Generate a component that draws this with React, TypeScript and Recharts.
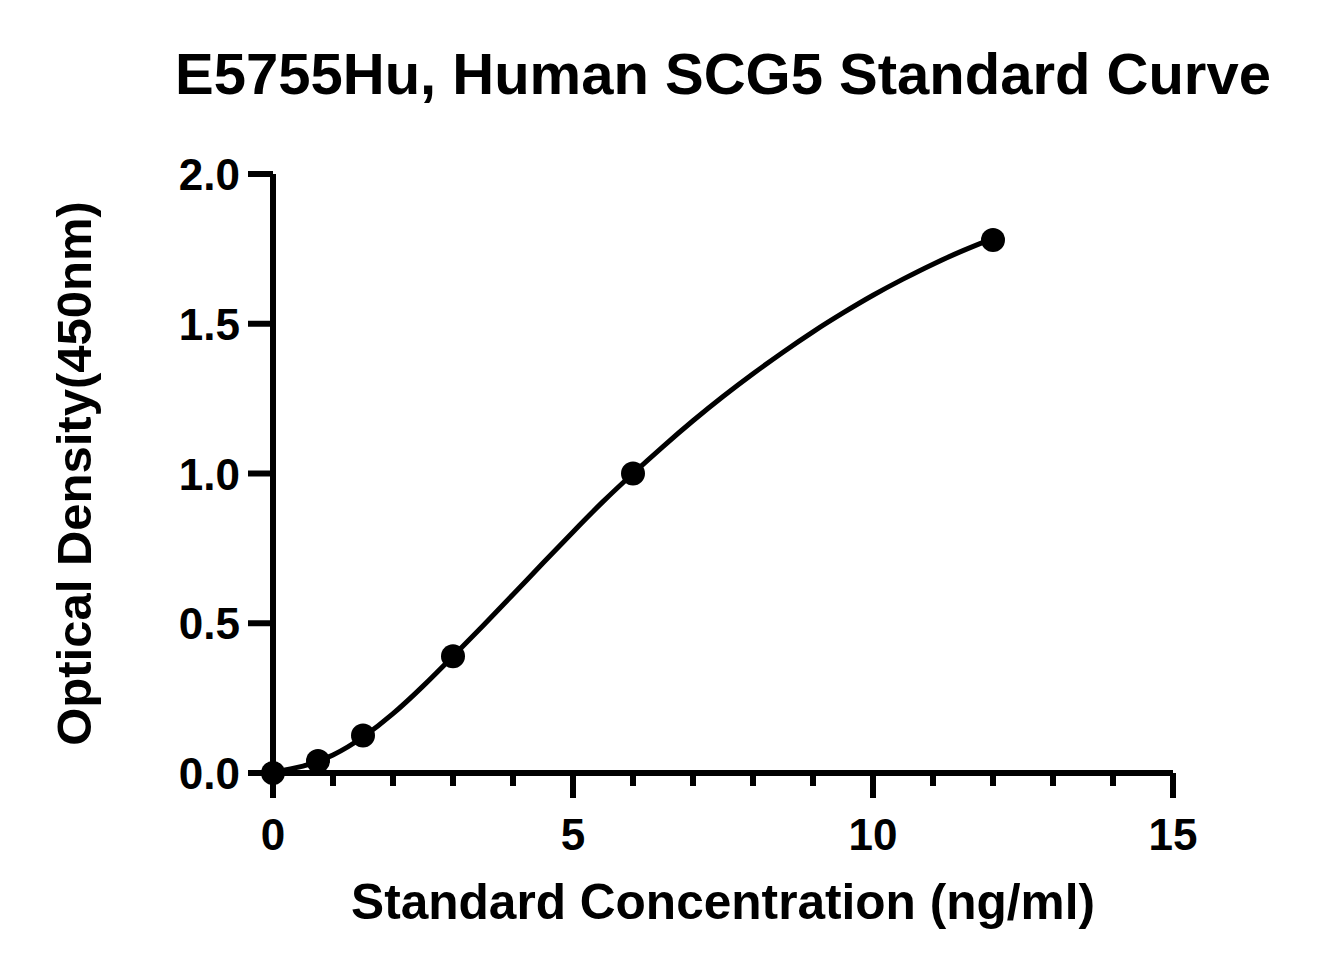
import React from "react";
import { ComposedChart, Line, Scatter, XAxis, YAxis, Label } from "recharts";

const FONT = "'Liberation Sans', Arial, Helvetica, sans-serif";

const title = "E5755Hu, Human SCG5 Standard Curve";
const xTitle = "Standard Concentration (ng/ml)";
const yTitle = "Optical Density(450nm)";

// measured standards
const concentrations = [0, 0.75, 1.5, 3, 6, 12];
const densities = [0.0, 0.04, 0.125, 0.39, 1.0, 1.78];

// fitted curve
const curveX = [0, 0.5, 1, 1.5, 2, 2.5, 3, 3.5, 4, 4.5, 5, 5.5, 6, 6.5, 7, 7.5, 8, 8.5, 9, 9.5, 10, 10.5, 11, 11.5, 12];
const curveY = [0.003, 0.023, 0.06, 0.12, 0.198, 0.29, 0.39, 0.492, 0.596, 0.701, 0.805, 0.906, 1.0, 1.09, 1.176, 1.257, 1.333, 1.405, 1.473, 1.536, 1.595, 1.649, 1.699, 1.744, 1.785];

const xTicks = [0, 1, 2, 3, 4, 5, 6, 7, 8, 9, 10, 11, 12, 13, 14, 15];
const xMajor = [0, 5, 10, 15];
const yTicks = [0, 0.5, 1.0, 1.5, 2.0];

const points = concentrations.map((x, i) => ({ x, y: densities[i] }));
const curve = curveX.map((x, i) => ({ x, y: curveY[i] }));

function XTick(props: any) {
  const { x, y, payload } = props;
  const major = xMajor.includes(payload.value);
  const len = major ? 25 : 13;
  return (
    <g>
      <line x1={x} x2={x} y1={y} y2={y + len} stroke="#000" strokeWidth={6} />
      {major && (
        <text x={x} y={y + 77} textAnchor="middle" fontFamily={FONT} fontWeight="bold" fontSize={44} fill="#000">
          {payload.value}
        </text>
      )}
    </g>
  );
}

function YTick(props: any) {
  const { x, y, payload } = props;
  return (
    <g>
      <line x1={x - 25} x2={x} y1={y} y2={y} stroke="#000" strokeWidth={6} />
      <text x={x - 33} y={y + 16} textAnchor="end" fontFamily={FONT} fontWeight="bold" fontSize={44} fill="#000">
        {payload.value.toFixed(1)}
      </text>
    </g>
  );
}

function XTitle(props: any) {
  const vb = props.viewBox;
  return (
    <text x={vb.x + vb.width / 2} y={vb.y + 146} textAnchor="middle" fontFamily={FONT} fontWeight="bold" fontSize={49.6} fill="#000">
      {xTitle}
    </text>
  );
}

function YTitle(props: any) {
  const vb = props.viewBox;
  const cx = 91;
  const cy = vb.y + vb.height / 2;
  return (
    <text x={cx} y={cy} transform={`rotate(-90, ${cx}, ${cy})`} textAnchor="middle" fontFamily={FONT} fontWeight="bold" fontSize={49} fill="#000">
      {yTitle}
    </text>
  );
}

const Dot = (props: any) => <circle cx={props.cx} cy={props.cy} r={12} fill="#000" />;

export default function App() {
  return (
    <div style={{ position: "absolute", left: 0, top: 0, width: 1338, height: 975, background: "#fff" }}>
      <svg width={1338} height={130} style={{ position: "absolute", left: 0, top: 0 }}>
        <text x={723} y={94} textAnchor="middle" fontFamily={FONT} fontWeight="bold" fontSize={58} fill="#000">
          {title}
        </text>
      </svg>
      <div style={{ position: "absolute", left: 0, top: 0 }}>
        <ComposedChart width={1338} height={975} margin={{ top: 174, right: 165, bottom: 0, left: 0 }}>
          <XAxis
            type="number"
            dataKey="x"
            domain={[0, 15]}
            ticks={xTicks}
            interval={0}
            height={202}
            tickSize={0}
            tickMargin={0}
            tickLine={false}
            tick={<XTick />}
            axisLine={{ stroke: "#000", strokeWidth: 6 }}
          >
            <Label content={<XTitle />} />
          </XAxis>
          <YAxis
            type="number"
            dataKey="y"
            domain={[0, 2]}
            ticks={yTicks}
            interval={0}
            width={273}
            tickSize={0}
            tickMargin={0}
            tickLine={false}
            tick={<YTick />}
            axisLine={{ stroke: "#000", strokeWidth: 6 }}
          >
            <Label content={<YTitle />} />
          </YAxis>
          <Line
            data={curve}
            dataKey="y"
            type="natural"
            stroke="#000"
            strokeWidth={5}
            dot={false}
            activeDot={false}
            isAnimationActive={false}
          />
          <Scatter data={points} dataKey="y" fill="#000" shape={<Dot />} isAnimationActive={false} />
        </ComposedChart>
      </div>
    </div>
  );
}
